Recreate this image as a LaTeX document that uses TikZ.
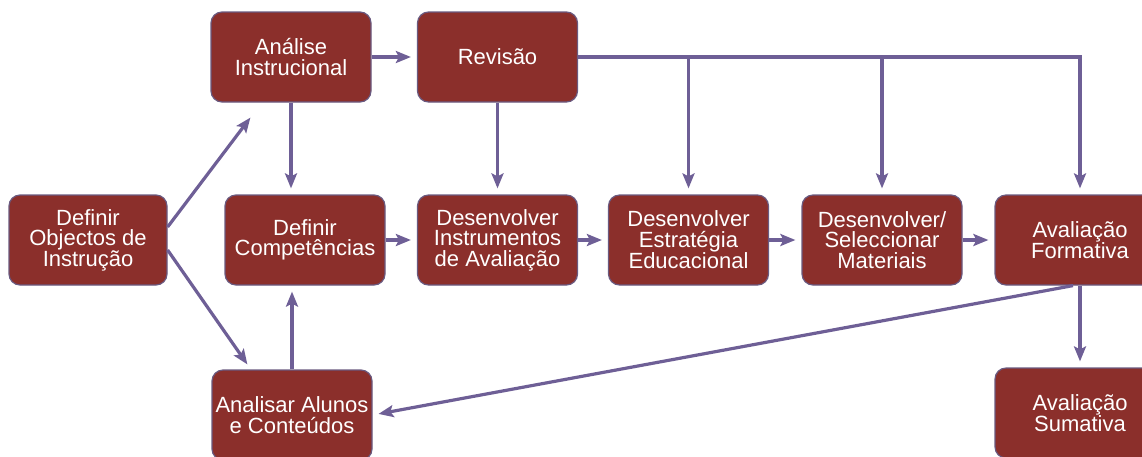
\documentclass[tikz,border=0pt]{standalone}
\usepackage{fontspec}
\setmainfont{Liberation Sans}
\usetikzlibrary{arrows.meta}
\definecolor{boxred}{HTML}{8B2F2B}
\definecolor{boxedge}{HTML}{6A5A80}
\definecolor{flow}{HTML}{6E5F96}
\begin{document}
\begin{tikzpicture}[x=1pt,y=-1pt,
  stepbox/.style={draw=boxedge, line width=1.2pt, fill=boxred, rounded corners=11pt,
    minimum width=160pt, minimum height=90pt, align=center, text=white,
    font=\fontsize{22}{20.5}\selectfont, inner sep=0pt},
  arr/.style={draw=flow, line width=3.2pt,
    -{Stealth[length=15pt,width=12pt,inset=3pt]}, shorten >=6pt},
  arrtip/.style={arr, shorten >=0pt}]
\useasboundingbox (0,0) rectangle (1142,456);
\clip (0,0) rectangle (1142,456);

% process steps
\node[stepbox, minimum width=158pt] (dob) at (88,240) {Definir\\Objectos de\\Instrução};
\node[stepbox] (ana) at (291,57)    {Análise\\Instrucional};
\node[stepbox] (rev) at (497.5,57)  {Revisão};
\node[stepbox] (dc)  at (305,240)   {Definir\\Competências};
\node[stepbox] (di)  at (497.5,240) {Desenvolver\\Instrumentos\\de Avaliação};
\node[stepbox] (de)  at (688.5,240) {Desenvolver\\Estratégia\\Educacional};
\node[stepbox] (ds)  at (882,240)   {Desenvolver/\\Seleccionar\\Materiais};
\node[stepbox, minimum width=170pt] (avf) at (1080,240) {Avaliação\\Formativa};
\node[stepbox, minimum width=170pt] (avs) at (1080,413) {Avaliação\\Sumativa};
\node[stepbox] (aa)  at (292,415)   {Analisar Alunos\\e Conteúdos};

% branches from the objectives
\draw[arrtip] ([yshift=13pt]dob.east) -- ([shift={(40pt,-15pt)}]ana.south west);
\draw[arrtip] ([yshift=-10pt]dob.east) -- ([shift={(36pt,5pt)}]aa.north west);

% top row
\draw[arr] (ana.east) -- (rev.west);
\draw[arr] (ana.south) -- (ana.south |- dc.north);
\draw[arr] (aa.north) -- (aa.north |- dc.south);

% main chain
\draw[arr] (dc.east) -- (di.west);
\draw[arr] (di.east) -- (de.west);
\draw[arr] (de.east) -- (ds.west);
\draw[arr] (ds.east) -- (avf.west);

% revision feeds every development step
\draw[arr] (rev.south) -- (di.north);
\draw[arr] (rev.east) -| (avf.north);
\draw[arr] (rev.east -| de.north) -- (de.north);
\draw[arr] (rev.east -| ds.north) -- (ds.north);

% evaluation outcomes
\draw[arr] (avf.south) -- (avs.north);
\draw[arr] ([xshift=-7pt]avf.south) -- (aa.east);
\end{tikzpicture}
\end{document}
